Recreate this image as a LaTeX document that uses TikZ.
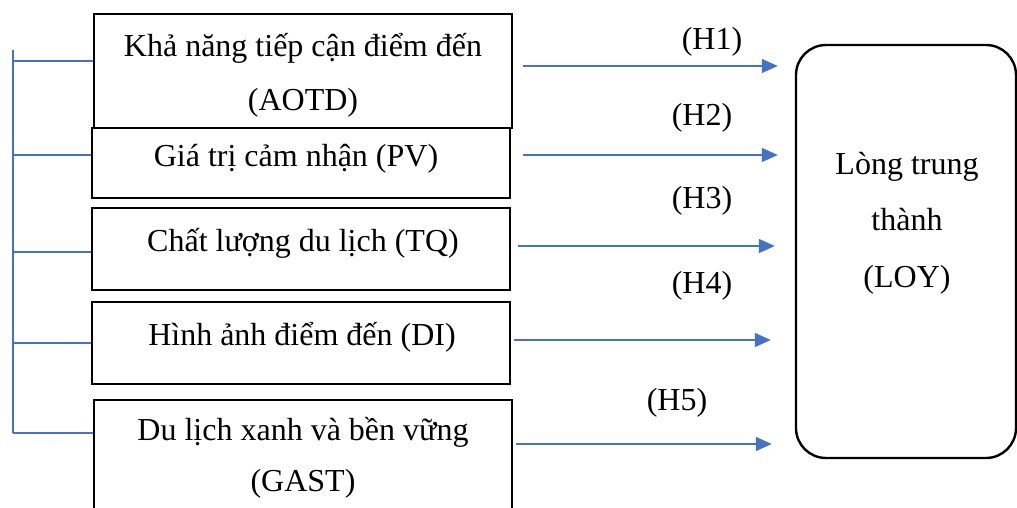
\documentclass[tikz,border=0pt]{standalone}
\usepackage{fontspec}
\setmainfont{Liberation Serif}
\usetikzlibrary{arrows.meta}
\definecolor{lineblue}{HTML}{4472C4}
\tikzset{
  box/.style={draw=black, line width=2.6pt, rectangle, inner sep=0pt},
  loybox/.style={draw=black, line width=2.4pt, rectangle, rounded corners=30pt, inner sep=0pt},
  txt/.style={anchor=base, inner sep=0pt, font=\fontsize{32}{36}\selectfont},
  arr/.style={draw=lineblue, line width=1.4pt, -{Triangle[length=16pt,width=14pt]}},
  brk/.style={draw=lineblue, line width=1.3pt},
}
\begin{document}
\begin{tikzpicture}[x=1pt,y=-1pt]
\useasboundingbox (0,0) rectangle (1017,508);
\clip (0,0) rectangle (1017,508);
% boxes
\node[box, minimum width=418pt, minimum height=114pt] (aotd) at (303,71) {};
\node[box, minimum width=418pt, minimum height=70pt] (pv) at (301,163) {};
\node[box, minimum width=418pt, minimum height=82pt] (tq) at (301,249) {};
\node[box, minimum width=418pt, minimum height=82pt] (di) at (301,343) {};
\node[box, minimum width=418pt, minimum height=130pt] (gast) at (303,465) {};
\node[loybox, minimum width=220pt, minimum height=413pt] (loy) at (906,251.5) {};
% texts
\node[txt] (t1a) at (303,57) {Khả năng tiếp cận điểm đến};
\node[txt] (t1b) at (303,111) {(AOTD)};
\node[txt] (t2) at (296,167) {Giá trị cảm nhận (PV)};
\node[txt] (t3) at (303,251) {Chất lượng du lịch (TQ)};
\node[txt] (t4) at (302,345) {Hình ảnh điểm đến (DI)};
\node[txt] (t5a) at (303,440) {Du lịch xanh và bền vững};
\node[txt] (t5b) at (303,491) {(GAST)};
\node[txt] (l1) at (907,175) {Lòng trung};
\node[txt] (l2) at (907,230) {thành};
\node[txt] (l3) at (907,287) {(LOY)};
% hypothesis labels
\node[txt] (h1) at (712,50) {(H1)};
\node[txt] (h2) at (702,125) {(H2)};
\node[txt] (h3) at (702,208) {(H3)};
\node[txt] (h4) at (702,293) {(H4)};
\node[txt] (h5) at (677,410) {(H5)};
% arrow rows
\coordinate (r1) at (0,66);
\coordinate (r2) at (0,155);
\coordinate (r3) at (0,246);
\coordinate (r4) at (0,340);
\coordinate (r5) at (0,444);
\draw[arr] ([xshift=10pt]aotd.east |- r1) -- ([xshift=-17pt]loy.west |- r1);
\draw[arr] ([xshift=12pt]pv.east |- r2) -- ([xshift=-17pt]loy.west |- r2);
\draw[arr] ([xshift=7pt]tq.east |- r3) -- ([xshift=-20pt]loy.west |- r3);
\draw[arr] ([xshift=3pt]di.east |- r4) -- ([xshift=-24pt]loy.west |- r4);
\draw[arr] ([xshift=3pt]gast.east |- r5) -- ([xshift=-23pt]loy.west |- r5);
% left bracket
\coordinate (btop) at (13,50);
\coordinate (bbot) at (13,433);
\coordinate (k1) at (0,61);
\coordinate (k2) at (0,155);
\coordinate (k3) at (0,252);
\draw[brk] (btop) -- (bbot);
\draw[brk] (btop |- k1) -- (aotd.west |- k1);
\draw[brk] (btop |- k2) -- (pv.west |- k2);
\draw[brk] (btop |- k3) -- (tq.west |- k3);
\draw[brk] (btop |- di.west) -- (di.west);
\draw[brk] (bbot) -- (gast.west |- bbot);
\end{tikzpicture}
\end{document}
